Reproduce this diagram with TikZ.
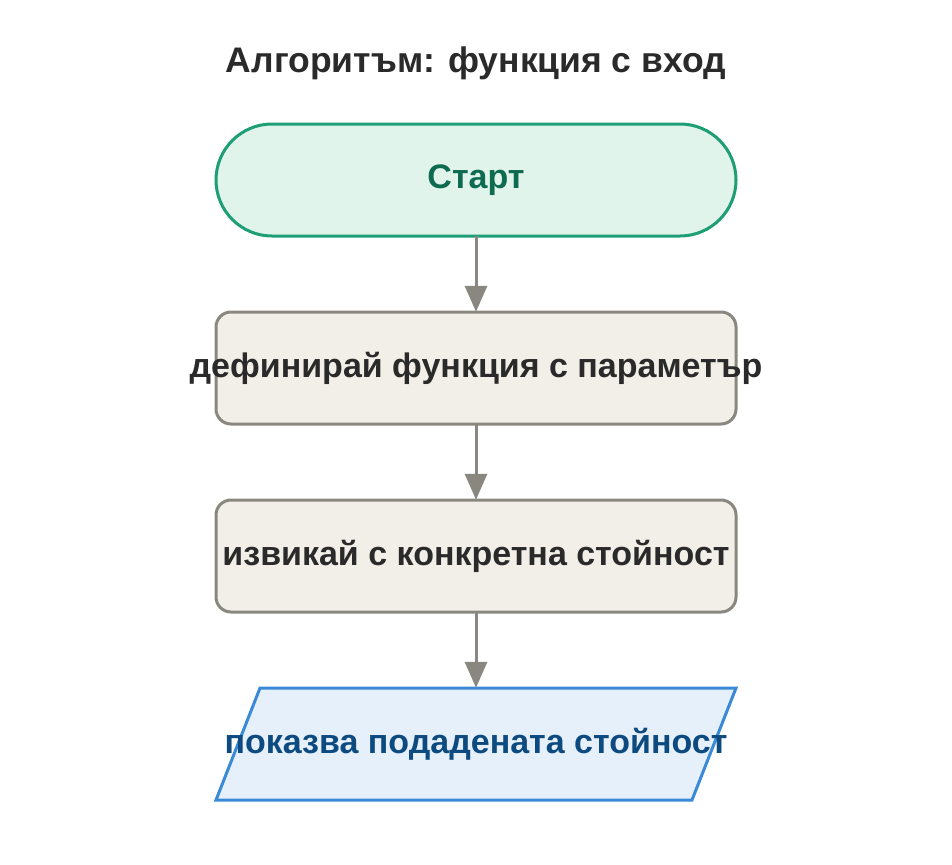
\documentclass[tikz,border=0pt]{standalone}
\usepackage{fontspec}
\setmainfont{Liberation Sans}
\usetikzlibrary{arrows.meta}
\definecolor{sfill}{HTML}{E0F4EC}\definecolor{sdraw}{HTML}{1E9E74}\definecolor{stext}{HTML}{0E6B50}
\definecolor{pfill}{HTML}{F2EFE8}\definecolor{pdraw}{HTML}{8A8780}\definecolor{ptext}{HTML}{2A2A2A}
\definecolor{ifill}{HTML}{E6F0FA}\definecolor{idraw}{HTML}{3A8AD8}\definecolor{itext}{HTML}{0D4A80}
\begin{document}
\begin{tikzpicture}[x=1pt,y=-1pt,
  txt/.style={font=\fontsize{34}{38}\selectfont\bfseries},
  box/.style={draw=pdraw,fill=pfill,line width=3pt,rounded corners=15pt},
  arr/.style={draw=pdraw,line width=3pt,-{Triangle[width=22pt,length=26pt]}}]
\useasboundingbox (0,0) rectangle (952,864);
\node[text=ptext,font=\fontsize{35.5}{38}\selectfont\bfseries] (title) at (476,63) {Алгоритъм: функция с вход};
\draw[draw=sdraw,fill=sfill,line width=3pt,rounded corners=56pt] (216,124) rectangle (736,236);
\node[txt,text=stext,minimum width=520pt,minimum height=112pt] (start) at (476,180) {Старт};
\draw[box] (216,312) rectangle (736,424);
\node[txt,text=ptext,minimum width=520pt,minimum height=112pt] (p1) at (476,368) {дефинирай функция с параметър};
\draw[box] (216,500) rectangle (736,612);
\node[txt,text=ptext,minimum width=520pt,minimum height=112pt] (p2) at (476,556) {извикай с конкретна стойност};
\draw[draw=idraw,fill=ifill,line width=3pt] (260,688) -- (736,688) -- (692,800) -- (216,800) -- cycle;
\node[txt,text=itext,minimum width=520pt,minimum height=112pt] (out) at (476,744) {показва подадената стойност};
\draw[arr] (start.south) -- (p1.north);
\draw[arr] (p1.south) -- (p2.north);
\draw[arr] (p2.south) -- (out.north);
\end{tikzpicture}
\end{document}
